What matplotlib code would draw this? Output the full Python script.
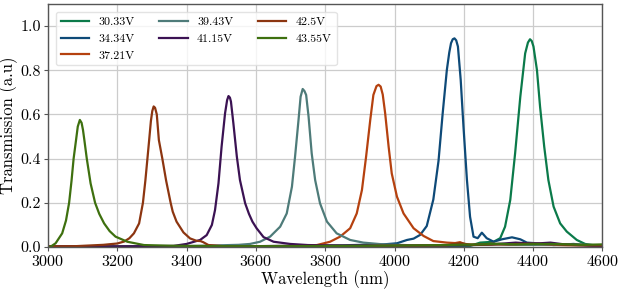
import matplotlib
matplotlib.use("Agg")
import matplotlib.pyplot as plt

plt.rcParams['font.family'] = 'cmr10'
plt.rcParams['mathtext.fontset'] = 'cm'
plt.rcParams['axes.formatter.use_mathtext'] = True

# Transmission spectra, one (wavelength, T) list per bias
wl_3033 = [3000, 3800, 4100, 4218, 4247, 4286, 4305, 4319, 4334, 4348, 4363, 4377, 4385,
           4391, 4396, 4401, 4411, 4420, 4432, 4444, 4459, 4478, 4497, 4526, 4550, 4574, 4600]
t_3033 = [0.002, 0.004, 0.006, 0.005, 0.020, 0.024, 0.040, 0.092, 0.213, 0.424, 0.680, 0.876, 0.925,
          0.940, 0.932, 0.907, 0.801, 0.635, 0.454, 0.303, 0.183, 0.107, 0.070, 0.032, 0.014, 0.008, 0.006]

wl_3434 = [3000, 3600, 3850, 3968, 4007, 4036, 4055, 4074, 4093, 4112, 4127, 4139, 4151, 4158,
           4163, 4168, 4173, 4178, 4183, 4191, 4199, 4209, 4218, 4228, 4240, 4252, 4266, 4286,
           4310, 4339, 4363, 4382, 4411, 4459, 4517, 4574, 4600]
t_3434 = [0.002, 0.004, 0.008, 0.012, 0.017, 0.032, 0.038, 0.055, 0.095, 0.215, 0.390, 0.605, 0.801, 0.880,
          0.922, 0.940, 0.944, 0.935, 0.907, 0.756, 0.545, 0.303, 0.137, 0.047, 0.040, 0.065, 0.040, 0.024,
          0.035, 0.044, 0.035, 0.020, 0.017, 0.009, 0.014, 0.005, 0.005]

wl_3721 = [3000, 3500, 3700, 3776, 3814, 3843, 3872, 3891, 3906, 3918, 3930, 3939, 3948, 3954,
           3960, 3966, 3973, 3983, 3992, 4007, 4026, 4055, 4084, 4112, 4151, 4175, 4189, 4205,
           4240, 4280, 4330, 4400, 4500, 4600]
t_3721 = [0.002, 0.003, 0.005, 0.009, 0.024, 0.047, 0.085, 0.152, 0.258, 0.409, 0.575, 0.688, 0.728, 0.734,
          0.726, 0.690, 0.605, 0.454, 0.333, 0.228, 0.152, 0.085, 0.050, 0.027, 0.020, 0.018, 0.022, 0.012,
          0.010, 0.015, 0.010, 0.012, 0.008, 0.006]

wl_3943 = [3000, 3400, 3550, 3583, 3612, 3641, 3670, 3689, 3704, 3713, 3723, 3729, 3735, 3740,
           3745, 3752, 3761, 3771, 3785, 3805, 3833, 3872, 3910, 3968, 4050, 4200, 4300, 4400,
           4500, 4600]
t_3943 = [0.002, 0.004, 0.010, 0.014, 0.024, 0.047, 0.092, 0.152, 0.273, 0.409, 0.575, 0.680, 0.715, 0.706,
          0.688, 0.590, 0.424, 0.303, 0.198, 0.115, 0.062, 0.032, 0.020, 0.012, 0.008, 0.008, 0.012, 0.010,
          0.012, 0.008]

wl_4115 = [3000, 3200, 3362, 3400, 3439, 3458, 3473, 3482, 3492, 3501, 3511, 3517, 3521, 3525,
           3528, 3535, 3545, 3554, 3569, 3580, 3590, 3602, 3622, 3651, 3699, 3750, 3850, 4000,
           4200, 4280, 4350, 4400, 4450, 4500, 4600]
t_4115 = [0.002, 0.003, 0.005, 0.014, 0.032, 0.054, 0.100, 0.167, 0.288, 0.454, 0.605, 0.665, 0.683, 0.676,
          0.658, 0.560, 0.409, 0.303, 0.198, 0.150, 0.115, 0.085, 0.045, 0.024, 0.014, 0.009, 0.006, 0.005,
          0.008, 0.012, 0.020, 0.015, 0.020, 0.010, 0.006]

wl_425 = [3000, 3080, 3160, 3200, 3220, 3235, 3248, 3263, 3274, 3281, 3287, 3292, 3297, 3301,
          3305, 3309, 3314, 3320, 3330, 3341, 3354, 3360, 3371, 3391, 3410, 3429, 3440, 3448,
          3463, 3506, 3600, 3800, 4000, 4150, 4190, 4220, 4300, 4400, 4500, 4600]
t_425 = [0.003, 0.004, 0.010, 0.016, 0.025, 0.040, 0.062, 0.107, 0.200, 0.300, 0.400, 0.484, 0.570, 0.615,
         0.636, 0.630, 0.600, 0.484, 0.400, 0.300, 0.200, 0.160, 0.115, 0.066, 0.039, 0.028, 0.027, 0.022,
         0.009, 0.004, 0.004, 0.005, 0.006, 0.008, 0.018, 0.010, 0.012, 0.015, 0.010, 0.008]

wl_4355 = [3000, 3008, 3022, 3041, 3052, 3061, 3068, 3074, 3081, 3086, 3092, 3097, 3101, 3105,
           3112, 3123, 3136, 3148, 3162, 3178, 3195, 3229, 3277, 3350, 3500, 3700, 3900, 4100,
           4250, 4300, 4350, 4450, 4550, 4600]
t_4355 = [0.0, 0.002, 0.017, 0.062, 0.120, 0.200, 0.300, 0.400, 0.484, 0.545, 0.575, 0.562, 0.530, 0.484,
          0.400, 0.288, 0.200, 0.150, 0.107, 0.072, 0.047, 0.024, 0.009, 0.006, 0.004, 0.004, 0.005, 0.008,
          0.012, 0.015, 0.012, 0.014, 0.010, 0.012]

labels = ['30.33V', '34.34V', '37.21V', '39.43V', '41.15V', '42.5V', '43.55V']
colors = ['#0b7a4a', '#0e4a78', '#b5410f', '#4e7b79', '#3b1253', '#8c3510', '#3e700f']
series = [(wl_3033, t_3033), (wl_3434, t_3434), (wl_3721, t_3721), (wl_3943, t_3943),
          (wl_4115, t_4115), (wl_425, t_425), (wl_4355, t_4355)]

fig = plt.figure(figsize=(6.23, 2.98), dpi=100)
ax = fig.add_axes([0.077, 0.171, 0.890, 0.816])

for (wl, t), lab, c in zip(series, labels, colors):
    ax.plot(wl, t, color=c, linewidth=1.6, label=lab)

ax.set_xlim(3000, 4600)
ax.set_ylim(0, 1.1)
ax.set_xticks(range(3000, 4601, 200))
ax.set_yticks([0.0, 0.2, 0.4, 0.6, 0.8, 1.0])
ax.set_yticklabels(['0.0', '0.2', '0.4', '0.6', '0.8', '1.0'])
ax.grid(True, color='#cccccc', linewidth=0.9)
ax.set_axisbelow(True)
for s in ax.spines.values():
    s.set_color('#555555')
    s.set_linewidth(1.0)
ax.tick_params(labelsize=11.5, length=3, color='#555555', pad=2)
ax.set_xlabel('Wavelength (nm)', fontsize=12, labelpad=1)
ax.set_ylabel('Transmission (a.u)', fontsize=12, labelpad=2)

leg = ax.legend(loc='upper left', ncol=3, fontsize=8.6, frameon=True,
                handlelength=2.35, handletextpad=0.8, columnspacing=2.1,
                labelspacing=0.55, borderaxespad=0.65)
leg.get_frame().set_edgecolor('#dddddd')

fig.savefig('out.png', dpi=100)
